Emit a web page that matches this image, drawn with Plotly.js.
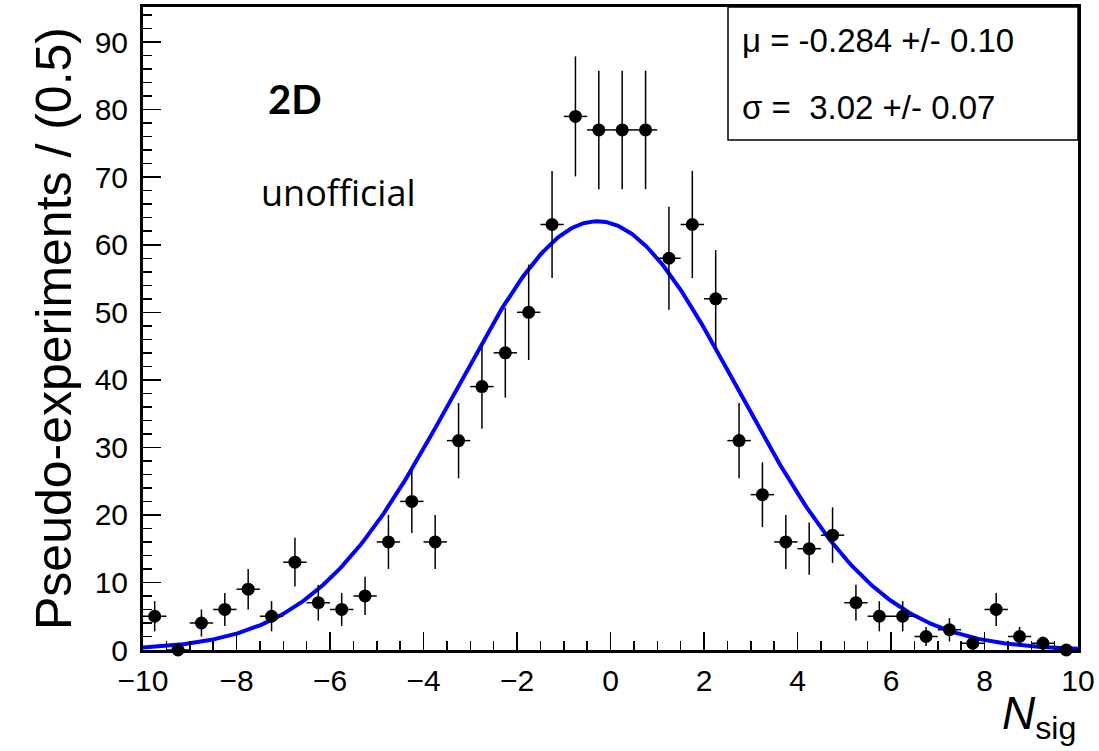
<!DOCTYPE html>
<html>
<head>
<meta charset="utf-8">
<script src="https://cdn.plot.ly/plotly-3.0.1.min.js"></script>
<style>html,body{margin:0;padding:0;background:#fff;}#chart{width:1099px;height:751px;}</style>
</head>
<body>
<div id="chart"></div>
<script>
// Bin centres of N_sig (bin width 0.5)
const binCenters = [-9.75,-9.25,-8.75,-8.25,-7.75,-7.25,-6.75,-6.25,-5.75,-5.25,
  -4.75,-4.25,-3.75,-3.25,-2.75,-2.25,-1.75,-1.25,-0.75,-0.25,
  0.25,0.75,1.25,1.75,2.25,2.75,3.25,3.75,4.25,4.75,
  5.25,5.75,6.25,6.75,7.25,7.75,8.25,8.75,9.25,9.75];
// Pseudo-experiment counts per bin
const counts = [5,0,4,6,9,5,13,7,6,8,
  16,22,16,31,39,44,50,63,79,77,
  77,77,58,63,52,31,23,16,15,17,
  7,5,5,2,3,1,6,2,1,0];
const binWidth = 0.5;
// Gaussian fit parameters (from the fit box)
const fitMu = -0.284;
const fitSigma = 3.02;
const fitMuErr = 0.10;
const fitSigmaErr = 0.07;
const xTickVals = [-10,-8,-6,-4,-2,0,2,4,6,8,10];
const yTickVals = [0,10,20,30,40,50,60,70,80,90];

const errY = counts.map(c => Math.sqrt(c));
const total = counts.reduce((a,b)=>a+b,0);
const amp = total*binWidth/(Math.sqrt(2*Math.PI)*fitSigma);
const fitX = [], fitY = [];
for (let i=0;i<=400;i++){ const x=-10+20*i/400; fitX.push(x); fitY.push(amp*Math.exp(-0.5*Math.pow((x-fitMu)/fitSigma,2))); }

const data = [
  {x: fitX, y: fitY, type:'scatter', mode:'lines', line:{color:'#0000ff', width:4}, hoverinfo:'skip', cliponaxis:true},
  {x: binCenters, y: counts, type:'scatter', mode:'markers',
   marker:{color:'#000', size:13},
   error_y:{type:'data', array:errY, visible:true, color:'#000', thickness:1.5, width:0},
   error_x:{type:'constant', value:binWidth/2, visible:true, color:'#000', thickness:1.5, width:0},
   cliponaxis:false}
];

const tickFont = {family:'"Liberation Sans", Arial, sans-serif', size:30, color:'#000'};
const layout = {
  width:1099, height:751,
  margin:{l:143, r:21, t:7, b:101},
  paper_bgcolor:'#fff', plot_bgcolor:'#fff',
  showlegend:false,
  xaxis:{range:[-10,10], tickvals:xTickVals, ticks:'inside', ticklen:18, tickwidth:1.5, tickcolor:'#000',
    minor:{dtick:0.5, ticks:'inside', ticklen:9, tickwidth:1.5, tickcolor:'#000', showgrid:false},
    showline:true, linewidth:3, linecolor:'#000', mirror:true, showgrid:false, zeroline:false,
    tickfont:tickFont, ticklabelstandoff:2},
  yaxis:{range:[0,95.2], tickvals:yTickVals, ticks:'inside', ticklen:18, tickwidth:1.5, tickcolor:'#000',
    minor:{dtick:2, ticks:'inside', ticklen:9, tickwidth:1.5, tickcolor:'#000', showgrid:false},
    showline:true, linewidth:3, linecolor:'#000', mirror:true, showgrid:false, zeroline:false,
    tickfont:tickFont, ticklabelstandoff:6,
    title:{text:'Pseudo-experiments / (0.5)', font:{family:'"Liberation Sans", Arial, sans-serif', size:50, color:'#000'}, standoff:8}},
  shapes:[
    {type:'rect', xref:'paper', yref:'paper', x0:(728-143)/935, x1:1, y0:(650-140)/643, y1:1, line:{color:'#000', width:1.5}, fillcolor:'rgba(0,0,0,0)'}
  ],
  annotations:[
    {xref:'paper', yref:'paper', x:(740-143)/935, y:(650-41)/643, xanchor:'left', yanchor:'middle', showarrow:false,
     text:'μ = ' + fitMu.toFixed(3) + ' +/- ' + fitMuErr.toFixed(2), font:{family:'"Liberation Sans", Arial, sans-serif', size:33, color:'#000'}},
    {xref:'paper', yref:'paper', x:(740-143)/935, y:(650-107)/643, xanchor:'left', yanchor:'middle', showarrow:false,
     text:'σ =  ' + fitSigma.toFixed(2) + ' +/- ' + fitSigmaErr.toFixed(2), font:{family:'"Liberation Sans", Arial, sans-serif', size:33, color:'#000'}},
    {xref:'paper', yref:'paper', x:(266-143)/935, y:(650-99)/643, xanchor:'left', yanchor:'middle', showarrow:false,
     text:'<b>2D</b>', font:{family:'Lato, "Open Sans", sans-serif', size:40, color:'#000'}},
    {xref:'paper', yref:'paper', x:(259-143)/935, y:(650-192)/643, xanchor:'left', yanchor:'middle', showarrow:false,
     text:'unofficial', font:{family:'"Open Sans", Lato, sans-serif', size:36, color:'#000'}},
    {xref:'paper', yref:'paper', x:1, y:(650-716)/643, xanchor:'right', yanchor:'middle', showarrow:false,
     text:'<i>N</i><sub>sig</sub>', font:{family:'"Liberation Sans", Arial, sans-serif', size:46, color:'#000'}}
  ]
};
Plotly.newPlot('chart', data, layout, {displayModeBar:false, staticPlot:true});
</script>
</body>
</html>
